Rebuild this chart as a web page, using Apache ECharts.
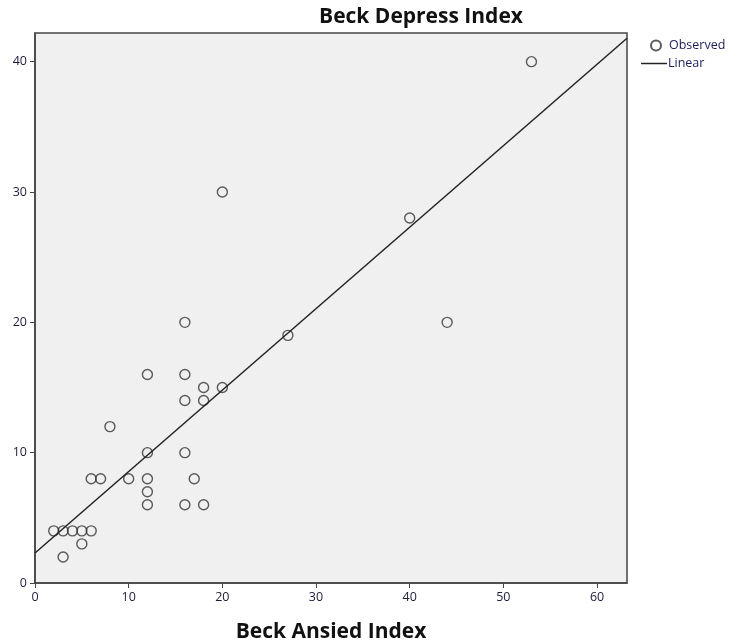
<!DOCTYPE html>
<html><head><meta charset="utf-8">
<script src="https://cdn.jsdelivr.net/npm/echarts@6/dist/echarts.min.js"></script>
<style>html,body{margin:0;padding:0;background:#fff}#c{width:738px;height:642px}</style>
</head><body><div id="c"></div>
<script>
const anxiety = [2,3,4,5,6,3,5,6,7,8,10,12,12,12,12,12,16,16,16,16,16,17,18,18,18,20,20,27,40,44,53];
const depression = [4,4,4,4,4,2,3,8,8,12,8,16,10,8,7,6,20,16,14,10,6,8,15,14,6,15,30,19,28,20,40];
const fitX = [0, 63.2];
const fitY = [2.3, 41.8];
const xTicks = [0,10,20,30,40,50,60];
const yTicks = [0,10,20,30,40];

const observed = anxiety.map((x,i)=>[x, depression[i]]);
const linear = fitX.map((x,i)=>[x, fitY[i]]);
const font = '"Open Sans", "DejaVu Sans", sans-serif';
const legendText = {fontFamily:font, fontSize:12.5, color:'#1c1c5a'};

const chart = echarts.init(document.getElementById('c'), null, {renderer:'canvas'});
chart.setOption({
  animation:false,
  backgroundColor:'#fff',
  title:{text:'Beck Depress Index', left:416, top:2, textAlign:'center',
    textStyle:{fontFamily:font, fontSize:21, fontWeight:'bold', color:'#111'}},
  legend:[
    {orient:'vertical', left:645, top:34, itemWidth:10, itemHeight:10, itemGap:4,
      textStyle:Object.assign({}, legendText, {padding:[0,0,0,3]}), data:[{name:'Observed', icon:'circle'}]},
    {orient:'vertical', left:636, top:52, itemWidth:26, itemHeight:1.5, itemGap:4,
      textStyle:Object.assign({}, legendText, {padding:[0,0,0,-4]}),
      data:[{name:'Linear', icon:'rect', itemStyle:{color:'#222', borderWidth:0}}]}
  ],
  grid:{left:35, top:33, width:592, height:550, outerBoundsMode:'none', containLabel:false,
    show:true, backgroundColor:'#f0f0f0', borderColor:'#444', borderWidth:1.5},
  xAxis:{type:'value', min:0, max:63.2, interval:10,
    name:'Beck Ansied Index', nameLocation:'middle', nameGap:39,
    nameTextStyle:{fontFamily:font, fontSize:21, fontWeight:'bold', color:'#111'},
    axisLine:{show:true, lineStyle:{color:'#444', width:1.5}},
    axisTick:{show:true, length:5, lineStyle:{color:'#444'}, customValues:xTicks},
    axisLabel:{fontFamily:font, fontSize:12.5, color:'#1c1c3a', margin:8, customValues:xTicks},
    splitLine:{show:false}},
  yAxis:{type:'value', min:0, max:42.2, interval:10,
    axisLine:{show:true, lineStyle:{color:'#444', width:1.5}},
    axisTick:{show:true, length:5, lineStyle:{color:'#444'}, customValues:yTicks},
    axisLabel:{fontFamily:font, fontSize:12.5, color:'#1c1c3a', margin:8, customValues:yTicks},
    splitLine:{show:false}},
  series:[
    {name:'Observed', type:'scatter', data:observed, symbol:'circle', symbolSize:10,
      itemStyle:{color:'rgba(0,0,0,0)', borderColor:'#333', borderWidth:1.4}},
    {name:'Linear', type:'line', data:linear, showSymbol:false, symbol:'none',
      lineStyle:{color:'#222', width:1.5}, itemStyle:{color:'#222'}}
  ]
});
</script></body></html>
